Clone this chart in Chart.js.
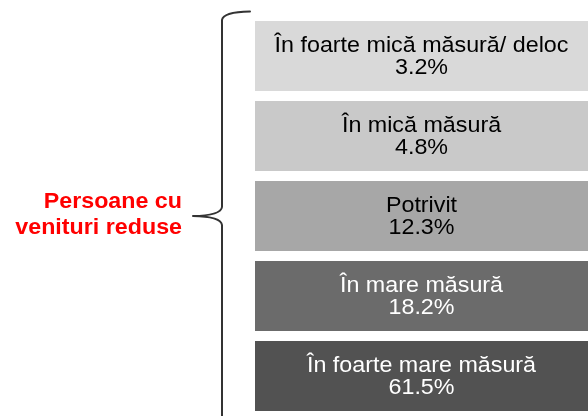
<!DOCTYPE html>
<html>
<head>
<meta charset="utf-8">
<script src="https://cdn.jsdelivr.net/npm/chart.js@4/dist/chart.umd.min.js"></script>
<style>
  html, body { margin: 0; padding: 0; background: #ffffff; }
  #wrap { width: 588px; height: 416px; position: relative; }
</style>
</head>
<body>
<div id="wrap"><canvas id="c"></canvas></div>
<script>
// ---- data ----
const categories = [
  "În foarte mică măsură/ deloc",
  "În mică măsură",
  "Potrivit",
  "În mare măsură",
  "În foarte mare măsură"
];
const shares = [3.2, 4.8, 12.3, 18.2, 61.5];   // percent
const boxSpan = [1, 1, 1, 1, 1];                // every box spans the full row
const groupLabel = ["Persoane cu", "venituri reduse"];

// ---- styles ----
const boxColors = ["#d9d9d9", "#c9c9c9", "#a7a7a7", "#6b6b6b", "#525252"];
const textColors = ["#000000", "#000000", "#000000", "#ffffff", "#ffffff"];
const FONT = '"Liberation Sans", Arial, sans-serif';

function drawStretched(ctx, text, x, y, align, sx) {
  ctx.save();
  ctx.translate(x, y);
  ctx.scale(sx, 1);
  ctx.textAlign = align;
  ctx.fillText(text, 0, 0);
  ctx.restore();
}

const labelPlugin = {
  id: 'boxLabels',
  afterDatasetsDraw(chart) {
    const ctx = chart.ctx;
    const meta = chart.getDatasetMeta(0);
    ctx.save();
    ctx.textBaseline = 'alphabetic';
    ctx.font = '22.5px ' + FONT;
    meta.data.forEach((bar, i) => {
      const cx = (bar.base + bar.x) / 2;
      const cy = bar.y;
      ctx.fillStyle = textColors[i];
      drawStretched(ctx, categories[i], cx, cy - 4.5, 'center', 1.035);
      drawStretched(ctx, shares[i].toFixed(1) + '%', cx, cy + 18, 'center', 1.035);
    });
    ctx.restore();
  },
  afterDraw(chart) {
    const ctx = chart.ctx;
    // brace
    ctx.save();
    ctx.strokeStyle = '#333333';
    ctx.lineWidth = 2;
    ctx.lineCap = 'round';
    ctx.lineJoin = 'round';
    const bx = 222, tipX = 193, midY = 216;
    ctx.beginPath();
    ctx.moveTo(250, 11.5);
    ctx.quadraticCurveTo(223, 12, bx, 20);
    ctx.lineTo(bx, midY - 9);
    ctx.quadraticCurveTo(bx - 1, midY - 0.5, tipX, midY);
    ctx.quadraticCurveTo(bx - 1, midY + 0.5, bx, midY + 9);
    ctx.lineTo(bx, 430);
    ctx.stroke();
    // red group label
    ctx.fillStyle = '#ff0000';
    ctx.font = 'bold 22px ' + FONT;
    ctx.textBaseline = 'alphabetic';
    drawStretched(ctx, groupLabel[0], 182, 208, 'right', 1.057);
    drawStretched(ctx, groupLabel[1], 182, 234, 'right', 1.057);
    ctx.restore();
  }
};

new Chart(document.getElementById('c'), {
  type: 'bar',
  data: {
    labels: categories,
    datasets: [{
      data: boxSpan,
      backgroundColor: boxColors,
      borderWidth: 0,
      barPercentage: 0.875,
      categoryPercentage: 1
    }]
  },
  options: {
    indexAxis: 'y',
    responsive: true,
    maintainAspectRatio: false,
    animation: false,
    layout: { padding: { left: 255, top: 16, right: 0, bottom: 0 } },
    scales: {
      x: { display: false, min: 0, max: 1 },
      y: { display: false }
    },
    plugins: {
      legend: { display: false },
      tooltip: { enabled: false }
    }
  },
  plugins: [labelPlugin]
});
</script>
</body>
</html>
